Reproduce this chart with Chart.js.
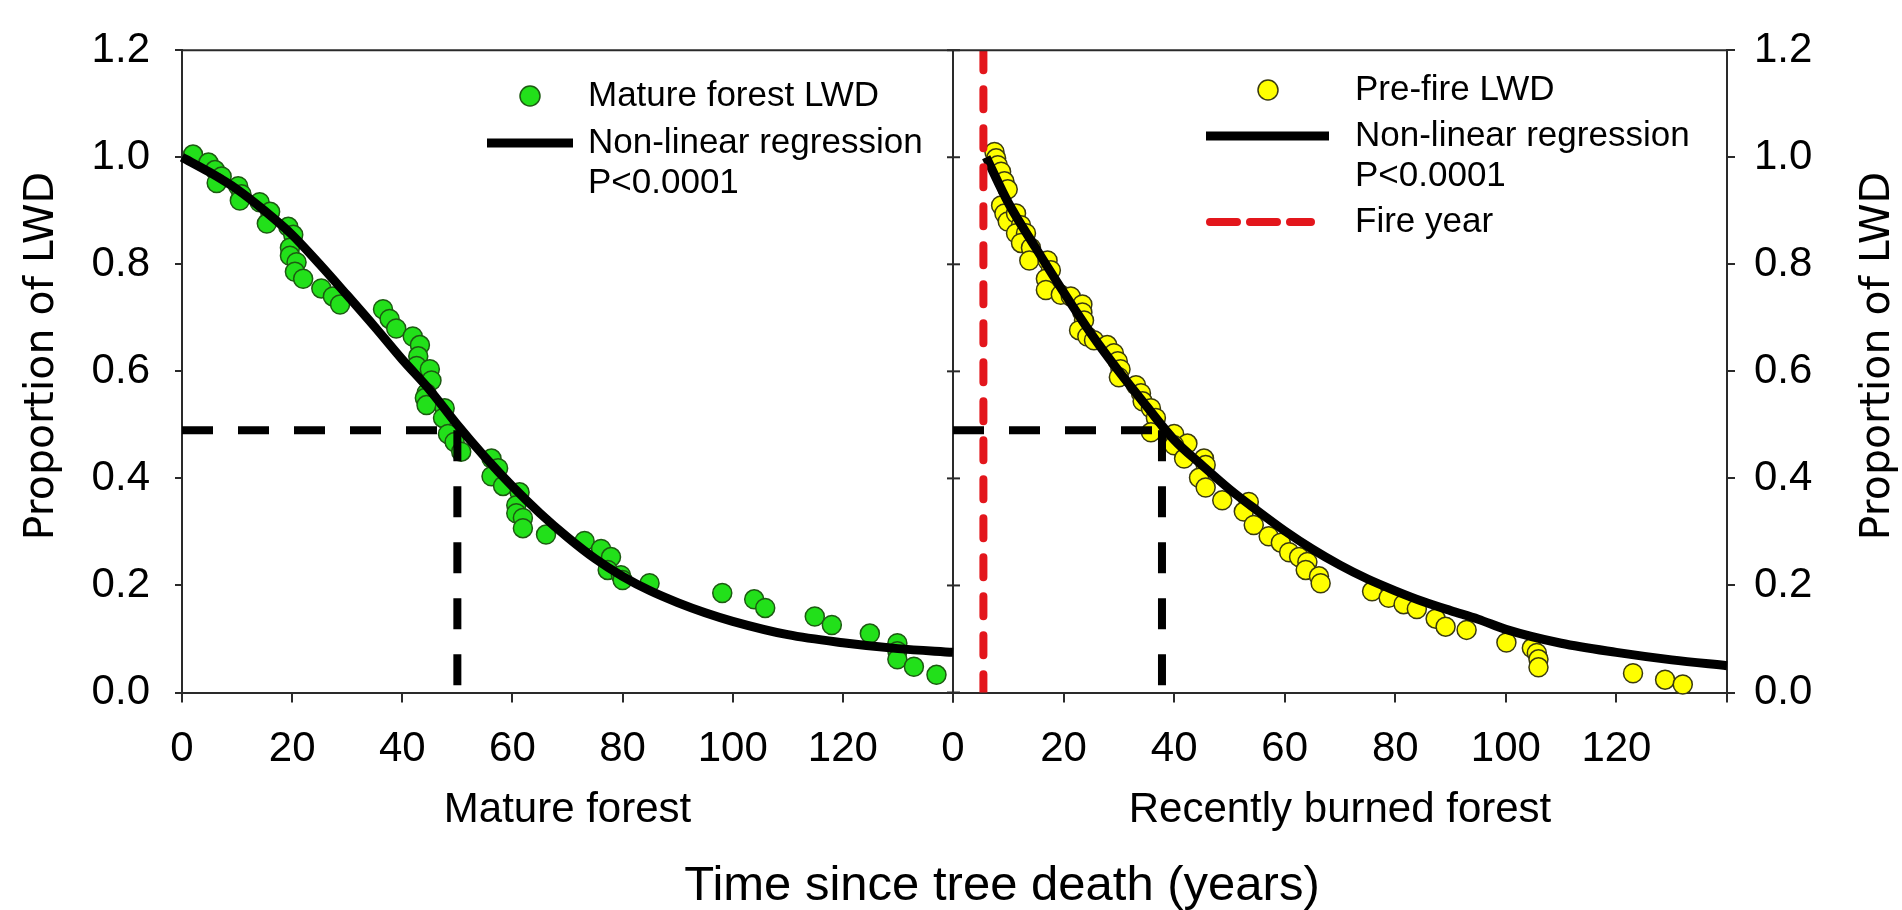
<!DOCTYPE html>
<html>
<head>
<meta charset="utf-8">
<title>Proportion of LWD over time since tree death</title>
<script src="https://cdn.jsdelivr.net/npm/chart.js@4.4.1/dist/chart.umd.min.js"></script>
<style>
  html, body { margin: 0; padding: 0; background: #ffffff; }
  #wrap { position: relative; width: 1902px; height: 910px; }
  canvas { display: block; }
</style>
</head>
<body>
<div id="wrap"><canvas id="chart" width="1902" height="910"></canvas></div>
<script>
// ---- Mature forest: observed LWD pieces (years since death, proportion remaining)
const matureYears = [2.0, 4.8, 6.0, 7.2, 6.3, 10.2, 10.8, 10.5, 14.1, 16.0, 15.4, 19.3, 20.2, 19.6, 19.6, 20.8,
  20.5, 22.0, 25.3, 27.4, 28.7, 36.5, 37.7, 38.9, 41.9, 43.2, 42.9, 42.6, 45.0, 45.3, 44.4, 44.1, 44.4, 47.7,
  47.4, 48.3, 49.5, 50.7, 56.2, 57.4, 56.2, 58.3, 61.3, 60.7, 60.7, 61.9, 61.9, 66.1, 73.1, 76.1, 77.9, 77.3,
  79.7, 80.0, 84.9, 98.1, 103.9, 105.9, 114.9, 118.0, 124.9, 129.9, 129.9, 129.9, 132.9, 137.0];
const matureProp = [1.005, 0.990, 0.976, 0.964, 0.952, 0.946, 0.931, 0.919, 0.916, 0.898, 0.876, 0.870, 0.855,
  0.831, 0.816, 0.804, 0.786, 0.773, 0.755, 0.740, 0.725, 0.716, 0.698, 0.680, 0.665, 0.649, 0.628, 0.610,
  0.604, 0.583, 0.559, 0.550, 0.537, 0.531, 0.513, 0.483, 0.468, 0.450, 0.437, 0.419, 0.404, 0.386, 0.374,
  0.350, 0.335, 0.326, 0.307, 0.295, 0.283, 0.268, 0.253, 0.229, 0.219, 0.210, 0.204, 0.186, 0.174, 0.158,
  0.142, 0.126, 0.110, 0.092, 0.077, 0.062, 0.048, 0.033];

// ---- Mature forest: fitted non-linear regression
const matureFitYears = [0, 5, 10, 15, 20, 25, 30, 35, 40, 45, 50, 55, 60, 65, 70, 75, 80, 85, 90, 95, 100, 110, 120, 130, 140];
const matureFitProp = [1.0, 0.972, 0.94, 0.90, 0.855, 0.80, 0.742, 0.683, 0.622, 0.565, 0.50, 0.44, 0.385, 0.335,
  0.29, 0.25, 0.217, 0.19, 0.168, 0.149, 0.133, 0.108, 0.093, 0.082, 0.075];

// ---- Recently burned forest: pre-fire LWD pieces
const preFireYears = [7.5, 7.8, 8.1, 8.7, 9.3, 9.9, 8.7, 9.3, 9.9, 11.4, 12.3, 11.4, 13.2, 12.3, 14.1, 13.8,
  17.1, 17.7, 16.8, 16.8, 19.5, 21.3, 23.4, 23.4, 23.7, 22.8, 24.3, 25.5, 27.9, 29.1, 29.8, 30.3, 30.0, 33.1,
  34.0, 34.3, 35.8, 36.7, 35.8, 40.0, 42.4, 40.0, 41.8, 45.4, 45.7, 44.5, 45.7, 48.7, 53.5, 52.6, 54.4, 57.1,
  59.3, 60.8, 62.6, 64.1, 63.8, 66.2, 66.5, 75.8, 78.8, 81.5, 83.9, 87.3, 89.1, 92.9, 100.1, 104.7, 105.6,
  105.9, 105.9, 123.0, 128.8, 132.0];
const preFireProp = [1.010, 0.998, 0.985, 0.973, 0.955, 0.940, 0.910, 0.895, 0.880, 0.895, 0.873, 0.858, 0.858,
  0.840, 0.831, 0.807, 0.807, 0.789, 0.773, 0.752, 0.743, 0.740, 0.725, 0.710, 0.695, 0.677, 0.665, 0.658,
  0.649, 0.634, 0.619, 0.604, 0.589, 0.574, 0.559, 0.544, 0.531, 0.513, 0.486, 0.483, 0.465, 0.462, 0.437,
  0.437, 0.425, 0.401, 0.383, 0.359, 0.356, 0.338, 0.313, 0.292, 0.280, 0.262, 0.253, 0.244, 0.229, 0.217,
  0.204, 0.189, 0.177, 0.165, 0.156, 0.138, 0.123, 0.117, 0.0935, 0.083, 0.074, 0.062, 0.047, 0.036, 0.024, 0.015];

// ---- Recently burned forest: fitted non-linear regression
const preFireFitYears = [6, 10, 15, 20, 25, 30, 35, 40, 45, 50, 55, 60, 65, 70, 75, 80, 85, 90, 95, 100, 110, 120, 130, 140];
const preFireFitProp = [1.0, 0.915, 0.83, 0.748, 0.67, 0.60, 0.535, 0.472, 0.425, 0.38, 0.34, 0.302, 0.268, 0.238,
  0.212, 0.19, 0.17, 0.153, 0.137, 0.118, 0.092, 0.075, 0.061, 0.05];

// ---- Reference markers
const halfLevel = 0.49;          // proportion remaining at the half-life guide
const matureHalfLife = 50;       // years, mature forest
const burnedHalfLife = 37.8;     // years, recently burned forest
const fireYear = 5.5;            // fire year on the burned-forest time axis

// ---- Axis ticks
const timeTicks = [0, 20, 40, 60, 80, 100, 120, 140];
const propTicks = [0, 0.2, 0.4, 0.6, 0.8, 1.0, 1.2];

const AXIS = '#2a2a2a';
const GREEN = '#22e01a';
const GREEN_EDGE = '#1d5a12';
const YELLOW = '#ffff00';
const YELLOW_EDGE = '#3a3a10';
const RED = '#e3161c';
const TICK_FONT = { family: "'Liberation Sans', Arial, sans-serif", size: 42 };

const pairs = (xs, ys) => xs.map((x, i) => ({ x, y: ys[i] }));

// Draws the frame top, divider ticks, legends and the shared titles
const decorations = {
  id: 'decorations',
  afterDraw(chart) {
    const { ctx, chartArea: a, scales } = chart;
    ctx.save();
    ctx.strokeStyle = AXIS;
    ctx.lineWidth = 2;
    ctx.beginPath();
    ctx.moveTo(a.left - 1, a.top);
    ctx.lineTo(a.right + 1, a.top);
    ctx.stroke();

    // short ticks across the divider between the two panels
    const dx = scales.xR.left;
    scales.y.ticks.forEach(t => {
      const py = scales.y.getPixelForValue(t.value);
      ctx.beginPath();
      ctx.moveTo(dx - 6, py);
      ctx.lineTo(dx + 7, py);
      ctx.stroke();
    });

    const marker = (x, y, fill, edge) => {
      ctx.beginPath();
      ctx.arc(x, y, 10, 0, Math.PI * 2);
      ctx.fillStyle = fill;
      ctx.fill();
      ctx.lineWidth = 1.5;
      ctx.strokeStyle = edge;
      ctx.stroke();
    };
    const seg = (x1, x2, y, color, dash) => {
      ctx.beginPath();
      ctx.setLineDash(dash || []);
      ctx.lineCap = dash ? 'round' : 'butt';
      ctx.lineWidth = dash ? 8 : 9;
      ctx.strokeStyle = color;
      ctx.moveTo(x1, y);
      ctx.lineTo(x2, y);
      ctx.stroke();
      ctx.setLineDash([]);
    };
    const label = (text, x, y) => {
      ctx.fillStyle = '#000';
      ctx.font = "35px 'Liberation Sans', Arial, sans-serif";
      ctx.textAlign = 'left';
      ctx.textBaseline = 'middle';
      ctx.fillText(text, x, y);
    };

    // legend, mature forest panel
    marker(530, 96, GREEN, GREEN_EDGE);
    label('Mature forest LWD', 588, 96);
    seg(487, 573, 143, '#000');
    label('Non-linear regression', 588, 143);
    label('P<0.0001', 588, 183);

    // legend, burned forest panel
    marker(1268, 90, YELLOW, YELLOW_EDGE);
    label('Pre-fire LWD', 1355, 90);
    seg(1206, 1329, 136, '#000');
    label('Non-linear regression', 1355, 136);
    label('P<0.0001', 1355, 176);
    seg(1210, 1311, 222, RED, [27, 13]);
    label('Fire year', 1355, 222);

    // vertical titles, both reading bottom to top
    const vtitle = (x, y) => {
      ctx.save();
      ctx.translate(x, y);
      ctx.rotate(-Math.PI / 2);
      ctx.fillStyle = '#000';
      ctx.font = "41px 'DejaVu Sans', Verdana, sans-serif";
      ctx.textAlign = 'center';
      ctx.textBaseline = 'middle';
      ctx.fillText('Proportion of LWD', 0, 0);
      ctx.restore();
    };
    vtitle(42, 356);
    vtitle(1878, 356);

    // shared time axis title
    ctx.fillStyle = '#000';
    ctx.font = "49px 'Liberation Sans', Arial, sans-serif";
    ctx.textAlign = 'center';
    ctx.textBaseline = 'alphabetic';
    ctx.fillText('Time since tree death (years)', 1002, 900);
    ctx.restore();
  }
};

const timeAxis = (title, weight, divider) => ({
  type: 'linear',
  position: 'bottom',
  stack: 'time',
  stackWeight: weight,
  min: timeTicks[0],
  max: timeTicks[timeTicks.length - 1],
  afterBuildTicks: s => { s.ticks = timeTicks.map(v => ({ value: v })); },
  ticks: {
    autoSkip: false, maxRotation: 0, minRotation: 0, padding: 22, color: '#000', font: TICK_FONT,
    callback: v => (v === timeTicks[timeTicks.length - 1] ? '' : String(v))
  },
  grid: {
    drawOnChartArea: divider,
    color: divider ? (c => (c.tick && c.tick.value === 0 ? AXIS : 'rgba(0,0,0,0)')) : AXIS,
    tickColor: AXIS,
    lineWidth: 2,
    tickLength: 10
  },
  border: { display: true, color: AXIS, width: 2 },
  title: {
    display: true, text: title, color: '#000',
    font: { family: "'Liberation Sans', Arial, sans-serif", size: 42 },
    padding: { top: 0, bottom: 74 }
  },
  afterFit: s => { s.height = 217.5; }
});

const propAxis = (position, width, tickLen, pad) => ({
  type: 'linear',
  position,
  min: propTicks[0],
  max: propTicks[propTicks.length - 1],
  afterBuildTicks: s => { s.ticks = propTicks.map(v => ({ value: v })); },
  ticks: { padding: pad, color: '#000', font: TICK_FONT, callback: v => Number(v).toFixed(1) },
  grid: { drawOnChartArea: false, color: AXIS, lineWidth: 2, tickLength: tickLen },
  border: { display: true, color: AXIS, width: 2 },
  afterFit: s => { s.width = width; }
});

const guide = (points, xAxisID) => ({
  type: 'line', data: points, xAxisID, yAxisID: 'y',
  borderColor: '#000', borderWidth: 8, borderDash: [31, 25], pointRadius: 0, fill: false, order: 0, clip: false
});

new Chart(document.getElementById('chart'), {
  type: 'scatter',
  data: {
    datasets: [
      {
        label: 'Mature forest LWD', data: pairs(matureYears, matureProp), xAxisID: 'xL', yAxisID: 'y',
        backgroundColor: GREEN, borderColor: GREEN_EDGE, borderWidth: 1.5, pointRadius: 9.5, order: 3, clip: false
      },
      {
        label: 'Pre-fire LWD', data: pairs(preFireYears, preFireProp), xAxisID: 'xR', yAxisID: 'y',
        backgroundColor: YELLOW, borderColor: YELLOW_EDGE, borderWidth: 1.5, pointRadius: 9.5, order: 3, clip: false
      },
      {
        type: 'line', label: 'Non-linear regression', data: pairs(matureFitYears, matureFitProp),
        xAxisID: 'xL', yAxisID: 'y', borderColor: '#000', borderWidth: 9, pointRadius: 0,
        cubicInterpolationMode: 'monotone', fill: false, order: 1, clip: false
      },
      {
        type: 'line', label: 'Non-linear regression', data: pairs(preFireFitYears, preFireFitProp),
        xAxisID: 'xR', yAxisID: 'y', borderColor: '#000', borderWidth: 9, pointRadius: 0,
        cubicInterpolationMode: 'monotone', fill: false, order: 1, clip: false
      },
      guide([{ x: 0, y: halfLevel }, { x: matureHalfLife, y: halfLevel }], 'xL'),
      guide([{ x: matureHalfLife, y: halfLevel }, { x: matureHalfLife, y: 0 }], 'xL'),
      guide([{ x: 0, y: halfLevel }, { x: burnedHalfLife, y: halfLevel }], 'xR'),
      guide([{ x: burnedHalfLife, y: halfLevel }, { x: burnedHalfLife, y: 0 }], 'xR'),
      {
        type: 'line', label: 'Fire year', data: [{ x: fireYear, y: propTicks[propTicks.length - 1] }, { x: fireYear, y: 0 }],
        xAxisID: 'xR', yAxisID: 'y', borderColor: RED, borderWidth: 8, borderDash: [20, 19], borderCapStyle: 'round',
        pointRadius: 0, fill: false, order: -1, clip: 0
      }
    ]
  },
  options: {
    responsive: false,
    animation: false,
    events: [],
    devicePixelRatio: 1,
    layout: { padding: { top: 32, left: 0, right: 0, bottom: 0 } },
    plugins: { legend: { display: false }, tooltip: { enabled: false }, title: { display: false } },
    scales: {
      xL: timeAxis('Mature forest', 771, false),
      xR: timeAxis('Recently burned forest', 774, true),
      y: propAxis('left', 182, 7, 25),
      yR: propAxis('right', 175, 8, 19)
    }
  },
  plugins: [decorations]
});
</script>
</body>
</html>
